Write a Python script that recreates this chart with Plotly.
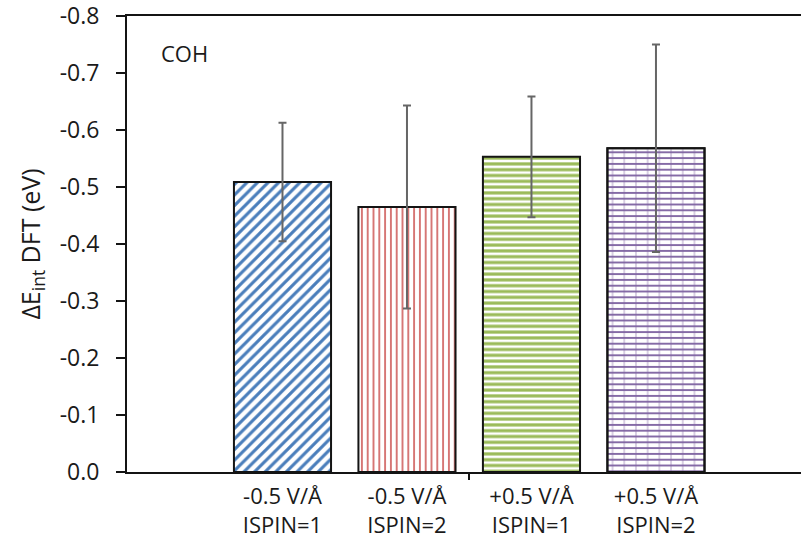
import plotly.graph_objects as go

# Interaction energies (eV) and their uncertainties for each field/spin setting
categories = ["-0.5 V/Å<br>ISPIN=1", "-0.5 V/Å<br>ISPIN=2",
              "+0.5 V/Å<br>ISPIN=1", "+0.5 V/Å<br>ISPIN=2"]
positions = [1, 2, 3, 4]
delta_e = [-0.509, -0.465, -0.553, -0.568]
errors = [0.104, 0.178, 0.106, 0.182]

y_ticks = [0.0, -0.1, -0.2, -0.3, -0.4, -0.5, -0.6, -0.7, -0.8]
y_tick_text = ["0.0", "-0.1", "-0.2", "-0.3", "-0.4", "-0.5", "-0.6", "-0.7", "-0.8"]

FONT = "Open Sans"
TEXT = "#1a1a1a"
EDGE = "#141414"

styles = [
    dict(shape="/", fg="#4a7ebb", size=7.5, solidity=0.42),
    dict(shape="|", fg="#cf5c5a", size=5.8, solidity=0.28),
    dict(shape="-", fg="#9bbb59", size=5.8, solidity=0.55),
]

fig = go.Figure()

for i in range(3):
    s = styles[i]
    fig.add_trace(go.Bar(
        x=[positions[i]], y=[delta_e[i]], width=0.78,
        marker=dict(
            color="white",
            line=dict(color=EDGE, width=2),
            pattern=dict(shape=s["shape"], fgcolor=s["fg"], bgcolor="white",
                         size=s["size"], solidity=s["solidity"], fillmode="replace"),
        ),
        error_y=dict(type="data", array=[errors[i]], color="#666666",
                     thickness=2, width=4),
        showlegend=False, hoverinfo="skip",
    ))

# Brick-style fill: horizontal courses plus lighter vertical joints
fig.add_trace(go.Bar(
    x=[positions[3]], y=[delta_e[3]], width=0.78,
    marker=dict(
        color="white",
        line=dict(color=EDGE, width=2),
        pattern=dict(shape="-", fgcolor="#8064a2", bgcolor="white",
                     size=5.8, solidity=0.32, fillmode="replace"),
    ),
    showlegend=False, hoverinfo="skip",
))
fig.add_trace(go.Bar(
    x=[positions[3]], y=[delta_e[3]], width=0.78,
    marker=dict(
        color="rgba(0,0,0,0)",
        line=dict(color=EDGE, width=2),
        pattern=dict(shape="|", fgcolor="rgba(128,100,162,0.75)", bgcolor="rgba(0,0,0,0)",
                     size=11.7, solidity=0.14, fillmode="overlay"),
    ),
    error_y=dict(type="data", array=[errors[3]], color="#666666",
                 thickness=2, width=4),
    showlegend=False, hoverinfo="skip",
))

# invisible trace on a twin axis that carries the single category-boundary tick
fig.add_trace(go.Scatter(x=[2.5], y=[0], xaxis="x2", mode="markers",
                         marker=dict(opacity=0), showlegend=False, hoverinfo="skip"))

x_range = [-0.249, 5.165]

fig.update_layout(
    width=801, height=539,
    margin=dict(l=127, r=0, t=16, b=67),
    paper_bgcolor="white", plot_bgcolor="white",
    barmode="overlay",
    font=dict(family=FONT, size=23, color=TEXT),
    xaxis=dict(
        range=x_range, tickvals=positions, ticktext=categories,
        ticks="", showgrid=False, zeroline=False, automargin=False,
        showline=True, linecolor=EDGE, linewidth=2, mirror=True,
        ticklabelstandoff=4,
        tickfont=dict(family=FONT, size=22, color=TEXT),
    ),
    xaxis2=dict(
        overlaying="x", matches="x", range=x_range, tickvals=[2.5],
        showticklabels=False, ticks="outside", ticklen=7, tickwidth=2,
        tickcolor=EDGE, showgrid=False, zeroline=False, showline=False,
        side="bottom", automargin=False,
    ),
    yaxis=dict(
        range=[0, -0.8001], tickvals=y_ticks, ticktext=y_tick_text,
        ticks="outside", ticklen=9, tickwidth=2, tickcolor=EDGE,
        showgrid=False, zeroline=False, automargin=False,
        showline=True, linecolor=EDGE, linewidth=2,
        ticklabelstandoff=12, ticklabeloverflow="allow",
        tickfont=dict(family=FONT, size=23, color=TEXT),
        title=dict(text="ΔE<sub>int</sub> DFT (eV)", standoff=12,
                   font=dict(family=FONT, size=25, color=TEXT)),
    ),
    annotations=[dict(text="COH", xref="paper", yref="paper", x=0.0853, y=0.919,
                      xanchor="center", yanchor="middle", showarrow=False,
                      font=dict(family=FONT, size=22, color=TEXT))],
)

fig.write_html("out.html")
